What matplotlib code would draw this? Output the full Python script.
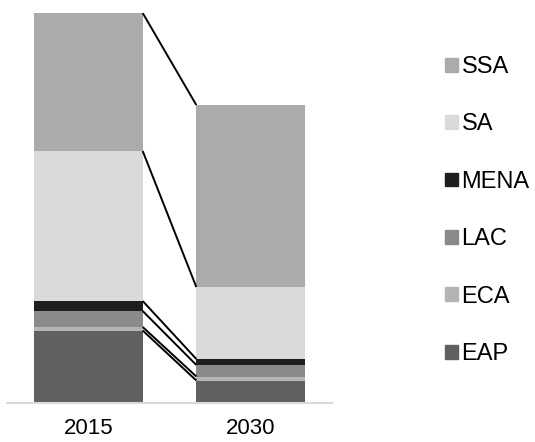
import numpy as np
import matplotlib.pyplot as plt
from matplotlib.patches import Patch

plt.rcParams["font.family"] = ["Liberation Sans", "DejaVu Sans"]

years = ["2015", "2030"]
regions = ["EAP", "ECA", "LAC", "MENA", "SA", "SSA"]
colors = ["#606060", "#b4b4b4", "#8a8a8a", "#1e1e1e", "#dadada", "#ababab"]
values_2015 = [145, 7, 32, 20, 300, 276]
values_2030 = [45, 8, 23, 12, 144, 364]

data = np.array([values_2015, values_2030])
x = np.arange(len(years))
width = 0.67

fig = plt.figure(figsize=(5.35, 4.42), dpi=100)
ax = fig.add_axes([7 / 535, 39 / 442, 325 / 535, 390 / 442])

bottom = np.zeros(len(years))
for i, region in enumerate(regions):
    ax.bar(x, data[:, i], width, bottom=bottom, color=colors[i], label=region)
    bottom = bottom + data[:, i]

# connector lines between the tops of each segment
cum = np.cumsum(data, axis=1)
for k in range(cum.shape[1]):
    ax.plot([x[0] + width / 2, x[1] - width / 2], [cum[0, k], cum[1, k]],
            color="black", lw=1.4, solid_capstyle="butt")

ax.set_xlim(-0.5, 1.5)
ax.set_ylim(0, cum[0, -1])
ax.set_xticks(x)
ax.set_xticklabels(years, fontsize=16)
ax.tick_params(axis="x", length=0, pad=11)
ax.set_yticks([])
for side in ["top", "right", "left"]:
    ax.spines[side].set_visible(False)
ax.spines["bottom"].set_color("#d9d9d9")
ax.spines["bottom"].set_linewidth(1.5)

handles = [Patch(color=c) for c in colors][::-1]
labels = regions[::-1]
fig.legend(handles, labels, loc="upper left", bbox_to_anchor=(445 / 535, 1 - 56 / 442),
           frameon=False, fontsize=17, handlelength=0.53, handleheight=0.53,
           handletextpad=0.17, labelspacing=1.5, borderpad=0, borderaxespad=0)

plt.savefig("out.png", dpi=100)
plt.close()
